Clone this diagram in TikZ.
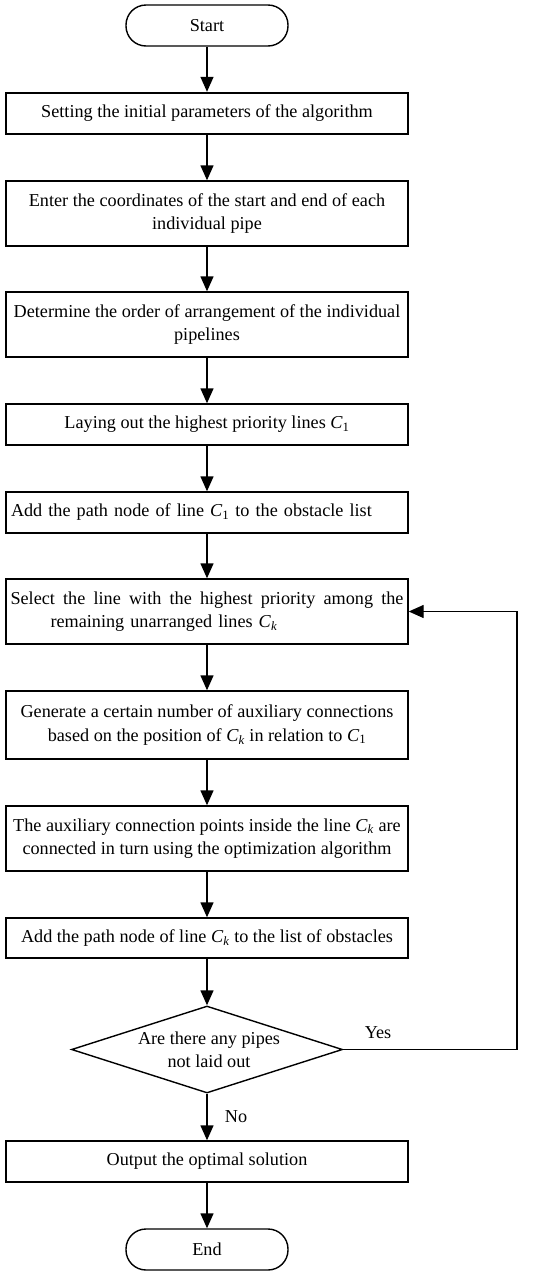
\documentclass[tikz,border=0pt]{standalone}
\usepackage{fontspec}
\setmainfont{Liberation Serif}
\usetikzlibrary{arrows.meta,shapes.geometric}
\newcommand{\Cv}[1]{\textit{C}\textsubscript{#1}}
\begin{document}
\begin{tikzpicture}[x=1pt,y=-1pt,
  every node/.style={font=\fontsize{18.2}{23.5}\selectfont, inner sep=0pt},
  box/.style={draw, line width=1.4pt, minimum width=402pt, align=center},
  term/.style={draw, line width=1.4pt, rounded corners=20pt, minimum width=162pt, minimum height=41pt},
  dec/.style={draw, line width=1.4pt, diamond, aspect=3.1, minimum width=271pt, minimum height=87pt, inner sep=0pt},
  arr/.style={line width=1.4pt, -{Triangle[length=15pt,width=13pt]}},
  lbl/.style={font=\fontsize{18.2}{20}\selectfont}]
\useasboundingbox (0,0) rectangle (550,1275);
\node[term] (start) at (207,25.5) {Start};
\node[box, line width=2.4pt, minimum height=41pt] (b1) at (207,113.5) {Setting the initial parameters of the algorithm};
\node[box, minimum height=65pt] (b2) at (207,213.5) {Enter the coordinates of the start and end of each\\individual pipe};
\node[box, minimum height=65pt] (b3) at (207,324.5) {Determine the order of arrangement of the individual\\pipelines};
\node[box, minimum height=41pt] (b4) at (207,424.5) {Laying out the highest priority lines \Cv{1}};
\node[box, minimum height=41pt, align=left, text width=392pt] (b5) at (207,512.5) {Add the path node of line \Cv{1} to the obstacle list};
\node[box, minimum height=65pt, align=left, text width=393pt] (b6) at (207,611.5) {\hbox to 393pt{Select\hfill the\hfill line\hfill with\hfill the\hfill highest\hfill priority\hfill among\hfill the}\\\hspace*{40pt}remaining unarranged lines \Cv{\textit{k}}};
\node[box, minimum height=68pt] (b7) at (207,725) {Generate a certain number of auxiliary connections\\based on the position of \Cv{\textit{k}} in relation to \Cv{1}};
\node[box, minimum height=65pt] (b8) at (207,838.5) {The auxiliary connection points inside the line \Cv{\textit{k}} are\\connected in turn using the optimization algorithm};
\node[box, minimum height=40pt] (b9) at (207,938) {Add the path node of line \Cv{\textit{k}} to the list of obstacles};
\node[dec] (d) at (207,1049.5) {};
\node[align=center] (dt) at (209,1050) {Are there any pipes\\not laid out};
\node[box, minimum height=41pt] (b10) at (207,1161.5) {Output the optimal solution};
\node[term] (end) at (207,1249.5) {End};
\draw[arr] (start) -- (b1);
\draw[arr] (b1) -- (b2);
\draw[arr] (b2) -- (b3);
\draw[arr] (b3) -- (b4);
\draw[arr] (b4) -- (b5);
\draw[arr] (b5) -- (b6);
\draw[arr] (b6) -- (b7);
\draw[arr] (b7) -- (b8);
\draw[arr] (b8) -- (b9);
\draw[arr] (b9) -- (d);
\draw[arr] (d) -- (b10);
\draw[arr] (b10) -- (end);
\coordinate (lp) at (517,1049.5);
\draw[arr] (d.east) -- (lp) |- (b6.east);
\node[lbl] (yes) at (378,1033) {Yes};
\node[lbl] (no) at (236,1117) {No};
\end{tikzpicture}
\end{document}
